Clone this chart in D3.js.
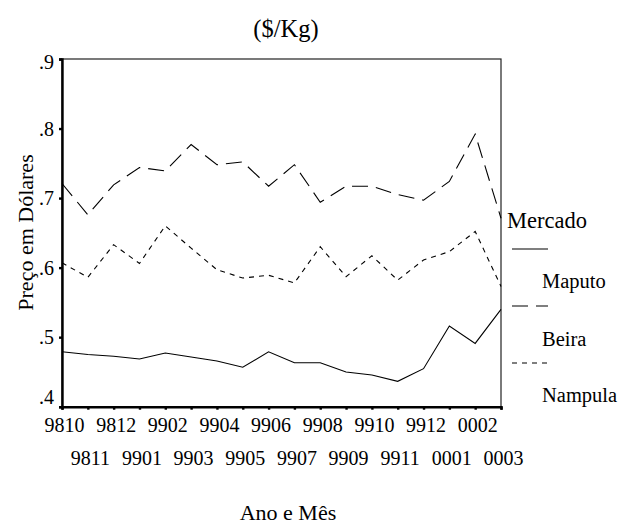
<!DOCTYPE html>
<html><head><meta charset="utf-8">
<script src="https://cdn.jsdelivr.net/npm/d3@7"></script>
<style>body{margin:0;background:#fff}svg{display:block}svg text{font-family:"Liberation Serif","DejaVu Serif",serif}</style>
</head><body>
<svg id="c" width="618" height="523"></svg>
<script>
const months = ["9810","9811","9812","9901","9902","9903","9904","9905","9906","9907","9908","9909","9910","9911","9912","0001","0002","0003"];
const maputo = [0.479,0.475,0.4725,0.4686,0.4773,0.4715,0.4658,0.4567,0.479,0.4633,0.4633,0.450,0.4456,0.4365,0.4547,0.516,0.491,0.540];
const beira = [0.721,0.676,0.719,0.744,0.739,0.777,0.748,0.752,0.717,0.748,0.694,0.717,0.717,0.705,0.697,0.724,0.792,0.671];
const nampula = [0.607,0.586,0.633,0.606,0.660,0.628,0.597,0.585,0.589,0.578,0.630,0.587,0.617,0.582,0.611,0.623,0.652,0.573];
const yTicks = [0.4,0.5,0.6,0.7,0.8,0.9];
const legendTitle = "Mercado";
const legendNames = ["Maputo","Beira","Nampula"];
const titleText = "($/Kg)";
const xTitle = "Ano e Mês";
const yTitle = "Preço em Dólares";

const svg = d3.select("#c");
const L = 62, R = 501, T = 59, B = 406.7;
const x = d3.scalePoint().domain(months).range([L, R]);
const y = d3.scaleLinear().domain([0.4, 0.9]).range([B, T]);

// frame
svg.append("rect").attr("x", L).attr("y", T).attr("width", R - L).attr("height", B - T)
  .attr("fill", "none").attr("stroke", "#222").attr("stroke-width", 1.2);

// series
const series = [
  {vals: maputo, dash: null},
  {vals: beira, dash: "16,8"},
  {vals: nampula, dash: "5,5"}
];
const line = d3.line().x((d, i) => x(months[i])).y(d => y(d));
series.forEach(s => {
  svg.append("path").datum(s.vals).attr("d", line).attr("fill", "none")
    .attr("stroke", "#000").attr("stroke-width", 1.1)
    .attr("stroke-dasharray", s.dash);
});

// y axis
const yAxis = d3.axisLeft(y).tickValues(yTicks).tickSize(3).tickPadding(5)
  .tickFormat(d => d3.format(".1f")(d).replace(/^0/, ""));
const gy = svg.append("g").attr("transform", `translate(${L},0)`).call(yAxis);
gy.attr("font-family", null).attr("font-size", null);
gy.select(".domain").attr("stroke", "#000").attr("stroke-width", 2.4);
gy.selectAll(".tick line").attr("stroke", "#000").attr("stroke-width", 2.4);
gy.selectAll(".tick text").style("font-size", "20px")
  .attr("fill", "#000").attr("dy", null)
  .attr("y", d => d === 0.9 ? 9 : (d === 0.4 ? -3 : 6.5));

// x axis
const xAxis = d3.axisBottom(x).tickSize(3).tickPadding(4);
const gx = svg.append("g").attr("transform", `translate(0,${B})`).call(xAxis);
gx.attr("font-family", null).attr("font-size", null);
gx.select(".domain").attr("stroke", "#000").attr("stroke-width", 2.4);
gx.selectAll(".tick line").attr("stroke", "#000").attr("stroke-width", 2.4);
gx.selectAll(".tick text").style("font-size", "20px")
  .attr("fill", "#000").attr("dy", null)
  .attr("y", (d, i) => i % 2 === 0 ? 25 : 58.5)
  .attr("x", 2);

// titles
svg.append("text").attr("x", 286).attr("y", 37).attr("text-anchor", "middle")
  .style("font-size", "24.5px").text(titleText);
svg.append("text").attr("x", 288).attr("y", 519.5).attr("text-anchor", "middle")
  .style("font-size", "22px").text(xTitle);
svg.append("text").attr("transform", "translate(33,232.5) rotate(-90)").attr("text-anchor", "middle")
  .style("font-size", "22px").text(yTitle);

// legend
svg.append("text").attr("x", 507).attr("y", 228).style("font-size", "22.5px").text(legendTitle);
const legY = [249, 306, 363];
const labY = [288, 346, 402];
series.forEach((s, i) => {
  svg.append("line").attr("x1", 512).attr("x2", 548).attr("y1", legY[i]).attr("y2", legY[i])
    .attr("stroke", "#000").attr("stroke-width", 1.1).attr("stroke-dasharray", s.dash);
  svg.append("text").attr("x", 542).attr("y", labY[i])
    .style("font-size", "20.5px").text(legendNames[i]);
});
</script>
</body></html>
